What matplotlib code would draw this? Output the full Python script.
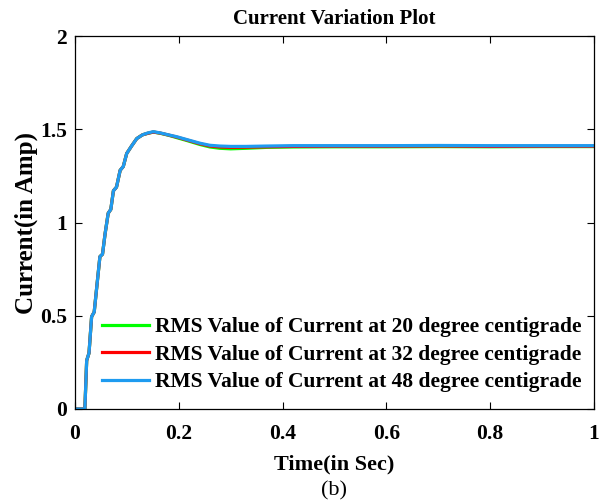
import matplotlib
matplotlib.use("Agg")
import matplotlib.pyplot as plt

plt.rcParams['font.family'] = ['Liberation Serif', 'DejaVu Serif']
plt.rcParams['font.weight'] = 'bold'

# time (s)
t = [0.0, 0.019, 0.0225, 0.027, 0.032, 0.037, 0.042, 0.048, 0.053, 0.058, 0.064,
     0.069, 0.074, 0.080, 0.087, 0.093, 0.0996, 0.109, 0.119, 0.130, 0.140, 0.151,
     0.165, 0.180, 0.196, 0.215, 0.241, 0.260, 0.279, 0.300, 0.330, 0.370, 0.420,
     0.500, 0.600, 0.700, 0.800, 0.900, 1.0]

i_20 = [0.0, 0.0, 0.26, 0.30, 0.495, 0.52, 0.656, 0.817, 0.83, 0.94, 1.05,
        1.07, 1.17, 1.19, 1.28, 1.30, 1.37, 1.41, 1.45, 1.47, 1.478, 1.485,
        1.478, 1.468, 1.455, 1.44, 1.418, 1.405, 1.398, 1.395, 1.398, 1.403, 1.405,
        1.406, 1.406, 1.407, 1.406, 1.407, 1.407]

i_32 = [0.0, 0.0, 0.26, 0.30, 0.495, 0.52, 0.656, 0.817, 0.83, 0.94, 1.05,
        1.07, 1.17, 1.19, 1.28, 1.30, 1.37, 1.41, 1.45, 1.47, 1.478, 1.485,
        1.479, 1.469, 1.458, 1.443, 1.422, 1.410, 1.405, 1.403, 1.404, 1.406, 1.408,
        1.409, 1.409, 1.410, 1.408, 1.409, 1.409]

i_48 = [0.0, 0.0, 0.26, 0.30, 0.495, 0.52, 0.656, 0.817, 0.83, 0.94, 1.05,
        1.07, 1.17, 1.19, 1.28, 1.30, 1.37, 1.41, 1.45, 1.47, 1.48, 1.487,
        1.48, 1.47, 1.46, 1.445, 1.425, 1.414, 1.41, 1.408, 1.408, 1.41, 1.412,
        1.412, 1.412, 1.413, 1.412, 1.412, 1.412]

labels = ['RMS Value of Current at 20 degree centigrade',
          'RMS Value of Current at 32 degree centigrade',
          'RMS Value of Current at 48 degree centigrade']
colors = ['#00ff00', '#ff0000', '#1e9bf0']

fig = plt.figure(figsize=(6.04, 5.04), dpi=100)
ax = fig.add_axes([75/604, 1-409/504, 519/604, 373/504])

for y, c, lab in zip([i_20, i_32, i_48], colors, labels):
    ax.plot(t, y, color=c, lw=2.3, label=lab)

ax.set_xlim(0, 1)
ax.set_ylim(0, 2)
ax.set_xticks([0, 0.2, 0.4, 0.6, 0.8, 1])
ax.set_xticklabels(['0', '0.2', '0.4', '0.6', '0.8', '1'])
ax.set_yticks([0, 0.5, 1, 1.5, 2])
ax.set_yticklabels(['0', '0.5', '1', '1.5', '2'])
ax.tick_params(direction='in', top=True, right=True, labelsize=15.5, length=5, width=0.8)
ax.tick_params(axis='x', pad=11)
ax.tick_params(axis='y', pad=6)
for s in ax.spines.values():
    s.set_linewidth(0.9)
ax.set_title('Current Variation Plot', fontsize=15, fontweight='bold', pad=9)
ax.set_xlabel('Time(in Sec)', fontsize=16, fontweight='bold', labelpad=7)
ax.set_ylabel('Current(in Amp)', fontsize=18, fontweight='bold', labelpad=1)
fig.text(334/604, 1-491/504, '(b)', fontsize=16, fontweight='normal',
         ha='center', va='center')

leg = ax.legend(loc='lower right', bbox_to_anchor=(1.0, 0.01), frameon=False,
                prop={'size': 15.5, 'weight': 'bold'}, handlelength=2.2,
                handletextpad=0.25, labelspacing=0.35, borderaxespad=0.2)

fig.savefig('out.png', dpi=100)
